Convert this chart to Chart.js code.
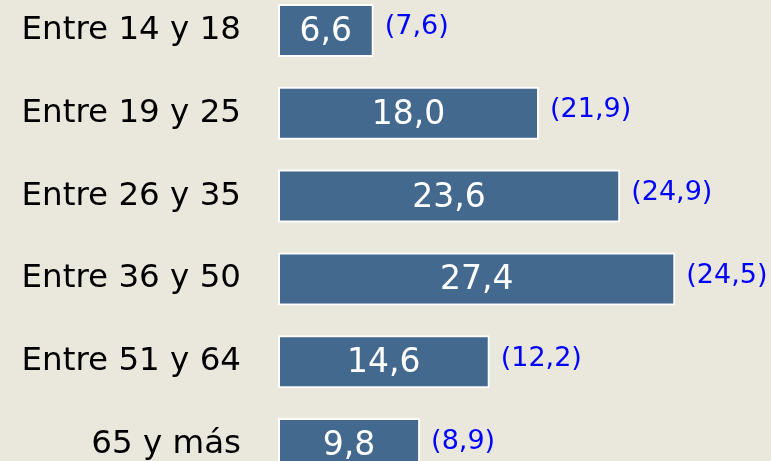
<!DOCTYPE html>
<html>
<head>
<meta charset="utf-8">
<script src="https://cdn.jsdelivr.net/npm/chart.js@4"></script>
<style>
  html, body { margin: 0; padding: 0; background: #eae8dd; overflow: hidden; }
  #wrap { position: relative; width: 771px; height: 461px; overflow: hidden; }
  #box { position: absolute; left: 0; top: -11px; width: 771px; height: 497px; }
</style>
</head>
<body>
<div id="wrap"><div id="box"><canvas id="chart"></canvas></div></div>
<script>
const categories = ['Entre 14 y 18', 'Entre 19 y 25', 'Entre 26 y 35', 'Entre 36 y 50', 'Entre 51 y 64', '65 y más'];
const values = [6.6, 18.0, 23.6, 27.4, 14.6, 9.8];
const previous = [7.6, 21.9, 24.9, 24.5, 12.2, 8.9];

const fmt = v => v.toFixed(1).replace('.', ',');
const FONT = "'DejaVu Sans', Verdana, sans-serif";

// value inside the bar, previous value in brackets to the right
const barLabels = {
    id: 'barLabels',
    afterDatasetsDraw(chart) {
        const ctx = chart.ctx;
        const meta = chart.getDatasetMeta(0);
        ctx.save();
        ctx.textBaseline = 'middle';
        meta.data.forEach((bar, i) => {
            ctx.font = '33px ' + FONT;
            ctx.fillStyle = '#ffffff';
            ctx.textAlign = 'center';
            ctx.fillText(fmt(values[i]), (bar.x + bar.base) / 2, bar.y + 2);
            ctx.font = '27px ' + FONT;
            ctx.fillStyle = '#0000ff';
            ctx.textAlign = 'left';
            ctx.fillText('(' + fmt(previous[i]) + ')', bar.x + 11, bar.y - 3);
        });
        ctx.restore();
    }
};

new Chart(document.getElementById('chart'), {
    type: 'bar',
    data: {
        labels: categories,
        datasets: [{
            data: values,
            backgroundColor: '#44698f',
            borderColor: '#ffffff',
            borderWidth: 2,
            borderSkipped: false,
            barPercentage: 0.64,
            categoryPercentage: 1
        }]
    },
    options: {
        indexAxis: 'y',
        responsive: true,
        maintainAspectRatio: false,
        animation: false,
        layout: { padding: 0 },
        plugins: {
            legend: { display: false },
            tooltip: { enabled: false }
        },
        scales: {
            x: {
                display: false,
                min: 0,
                max: 34
            },
            y: {
                grid: { display: false },
                border: { display: false },
                ticks: {
                    color: '#000000',
                    padding: 29,
                    font: { family: FONT, size: 32.5 }
                },
                afterFit(scale) {
                    scale.width = 278;
                    scale.paddingTop = 0;
                    scale.paddingBottom = 0;
                }
            }
        }
    },
    plugins: [barLabels]
});
</script>
</body>
</html>
